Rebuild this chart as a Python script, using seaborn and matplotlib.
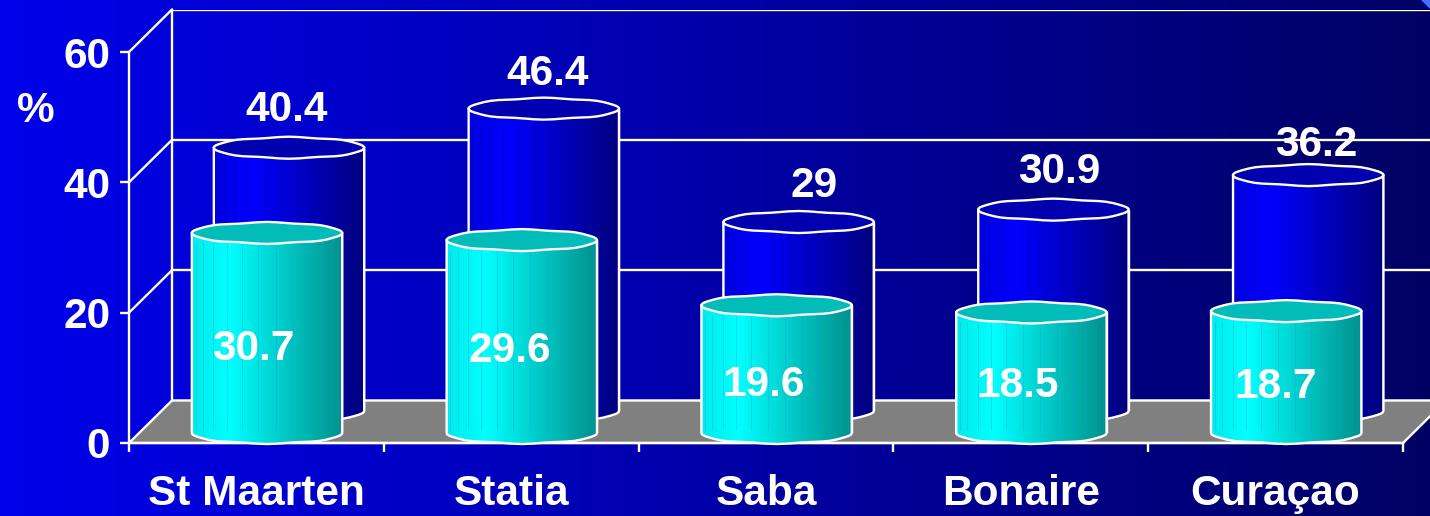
import numpy as np
import pandas as pd
import matplotlib
matplotlib.use("Agg")
import matplotlib.pyplot as plt
import seaborn as sns
from matplotlib.patches import Polygon

islands = ["St Maarten", "Statia", "Saba", "Bonaire", "Curaçao"]
back_values = [40.4, 46.4, 29, 30.9, 36.2]
front_values = [30.7, 29.6, 19.6, 18.5, 18.7]
back_labels = ["40.4", "46.4", "29", "30.9", "36.2"]
front_labels = ["30.7", "29.6", "19.6", "18.5", "18.7"]
y_ticks = [0, 20, 40, 60]

# label offsets from the bar top, in pixels
back_nudge = [(-2, 38), (4, 35), (16, 36), (6, 38), (8, 30)]
front_nudge = [(-14, -116), (-12, -111), (-13, -80), (-14, -74), (-11, -76)]

W, H = 1430, 516
LEFT, BASE, PLOT_W, PLOT_H = 129, 443, 1274, 391
WHITE_LW = 1.7
FONT = 30.5

sns.set_theme(style="white")
plt.rcParams["font.family"] = ["Liberation Sans", "DejaVu Sans"]
plt.rcParams["font.weight"] = "bold"


def make_axes(fig, dx, dy, z):
    ax = fig.add_axes([(LEFT + dx) / W, (H - BASE + dy) / H, PLOT_W / W, PLOT_H / H], zorder=z)
    ax.patch.set_alpha(0)
    return ax


def limits(ax):
    ax.set_xlim(-0.5, 4.5)
    ax.set_ylim(0, 60)


def cylinder(ax, bar, stops, top_color, line_color, line_alpha):
    x, w, v = bar.get_x(), bar.get_width(), bar.get_height()
    cx, hw = x + w / 2, w / 2
    ry = 10.5 / (PLOT_H / 60)
    # wavy many sided ellipse, like the old powerpoint cylinders
    a = np.linspace(0, 2 * np.pi, 49)
    wave = 1 + 0.05 * np.cos(8 * a)
    ex, ey = hw * np.cos(a), ry * np.sin(a) * wave
    low = a >= np.pi
    body_x = np.r_[cx - hw, cx + ex[low], cx + hw]
    body_y = np.r_[v, ey[low], v]
    body = Polygon(np.c_[body_x, body_y], closed=True, fc="none", ec="white",
                   lw=WHITE_LW, clip_on=False, zorder=4)
    ax.add_patch(body)

    pos = np.linspace(0, 1, 200)
    rgb = np.stack([np.interp(pos, [0, 0.25, 1], [s[i] for s in stops]) for i in range(3)], axis=-1)
    img = ax.imshow(rgb[None, :, :] / 255, extent=[x, x + w, -2 * ry, v + ry], aspect="auto",
                    interpolation="bilinear", zorder=3)
    img.set_clip_box(ax.figure.bbox)
    img.set_clip_path(body)

    # facet edges
    for t in np.linspace(-1.25, 1.25, 12):
        xs = cx + hw * np.sin(t)
        ax.plot([xs, xs], [0.5, v - ry], color=line_color, lw=0.6, alpha=line_alpha, zorder=3.5, clip_on=False)

    ax.add_patch(Polygon(np.c_[cx + ex, v + ey], closed=True, fc=top_color, ec="white",
                         lw=WHITE_LW, clip_on=False, zorder=5))
    limits(ax)


def draw_chart():
    fig = plt.figure(figsize=(W / 100, H / 100), dpi=100)

    # background gradient
    bg = fig.add_axes([0, 0, 1, 1], zorder=-1)
    shade = np.linspace(235, 100, 256)
    grad = np.stack([np.zeros(256), np.zeros(256), shade], axis=-1) / 255
    bg.imshow(grad[None, :, :], extent=[0, 1, 0, 1], aspect="auto")
    bg.add_patch(Polygon([(0.9935, 1), (1, 1), (1, 0.982)], closed=True, fc="#4070ff", ec="none"))
    bg.set_axis_off()

    depth_x = 43 / (PLOT_W / 5)
    depth_y = 42.5 / (PLOT_H / 60)

    # back wall with gridlines
    wall = make_axes(fig, 43, 42.5, 0)
    limits(wall)
    wall.set_yticks(y_ticks)
    wall.set_xticks([])
    wall.tick_params(left=False, labelleft=False)
    wall.grid(axis="y", color="white", lw=WHITE_LW)
    for side in ["top", "right", "bottom"]:
        wall.spines[side].set_visible(False)
    wall.spines["left"].set_color("white")
    wall.spines["left"].set_linewidth(WHITE_LW)

    # front plane: axis lines, ticks, labels, floor
    ax = make_axes(fig, 0, 0, 1)
    limits(ax)
    ax.add_patch(Polygon([(-0.5, 0), (-0.5 + depth_x, depth_y), (4.5 + depth_x, depth_y), (4.5, 0)],
                         closed=True, fc="#808080", ec="white", lw=WHITE_LW, clip_on=False, zorder=1))
    for v in y_ticks[1:]:
        ax.plot([-0.5, -0.5 + depth_x], [v, v + depth_y], color="white", lw=WHITE_LW, clip_on=False)
    ax.set_yticks(y_ticks)
    ax.set_xticks(range(5))
    ax.set_xticklabels(islands)
    ax.set_xticks(np.arange(-0.5, 5), minor=True)
    ax.tick_params(axis="x", which="major", length=0, pad=22.5, colors="white", labelsize=FONT)
    ax.tick_params(axis="x", which="minor", length=6.5, width=WHITE_LW, color="white", bottom=True)
    ax.tick_params(axis="y", length=6.5, width=WHITE_LW, pad=7, colors="white", labelsize=FONT, left=True)
    for label in ax.get_xticklabels() + ax.get_yticklabels():
        label.set_fontweight("bold")
    for side in ["top", "right"]:
        ax.spines[side].set_visible(False)
    for side in ["left", "bottom"]:
        ax.spines[side].set_color("white")
        ax.spines[side].set_linewidth(WHITE_LW)
    ax.spines["bottom"].set_zorder(6)
    limits(ax)

    df = pd.DataFrame({"island": islands, "back": back_values, "front": front_values})

    back = make_axes(fig, 32.6, 32, 2)
    sns.barplot(data=df, x="island", y="back", color="#0000e0", saturation=1, width=0.59, ax=back)
    for bar in list(back.patches):
        cylinder(back, bar, [(0, 0, 225), (0, 0, 255), (0, 0, 125)], "#0000b0", "#000090", 0.4)

    front = make_axes(fig, 10.6, 10, 3)
    sns.barplot(data=df, x="island", y="front", color="#00e0e0", saturation=1, width=0.59, ax=front)
    for bar in list(front.patches):
        cylinder(front, bar, [(0, 235, 235), (0, 255, 255), (0, 145, 140)], "#00bdb9", "#2a8fd8", 0.35)

    for a in [back, front]:
        a.set_axis_off()

    for i in range(5):
        back.annotate(back_labels[i], (i, back_values[i]), xytext=back_nudge[i], textcoords="offset pixels",
                      ha="center", va="center", color="white", fontsize=FONT, fontweight="bold", zorder=8,
                      annotation_clip=False)
        front.annotate(front_labels[i], (i, front_values[i]), xytext=front_nudge[i], textcoords="offset pixels",
                       ha="center", va="center", color="white", fontsize=FONT, fontweight="bold", zorder=8,
                       annotation_clip=False)

    fig.text(36 / W, 1 - 111 / H, "%", color="white", fontsize=FONT, fontweight="bold", ha="center", va="center")
    fig.savefig("out.png", dpi=100)


draw_chart()
